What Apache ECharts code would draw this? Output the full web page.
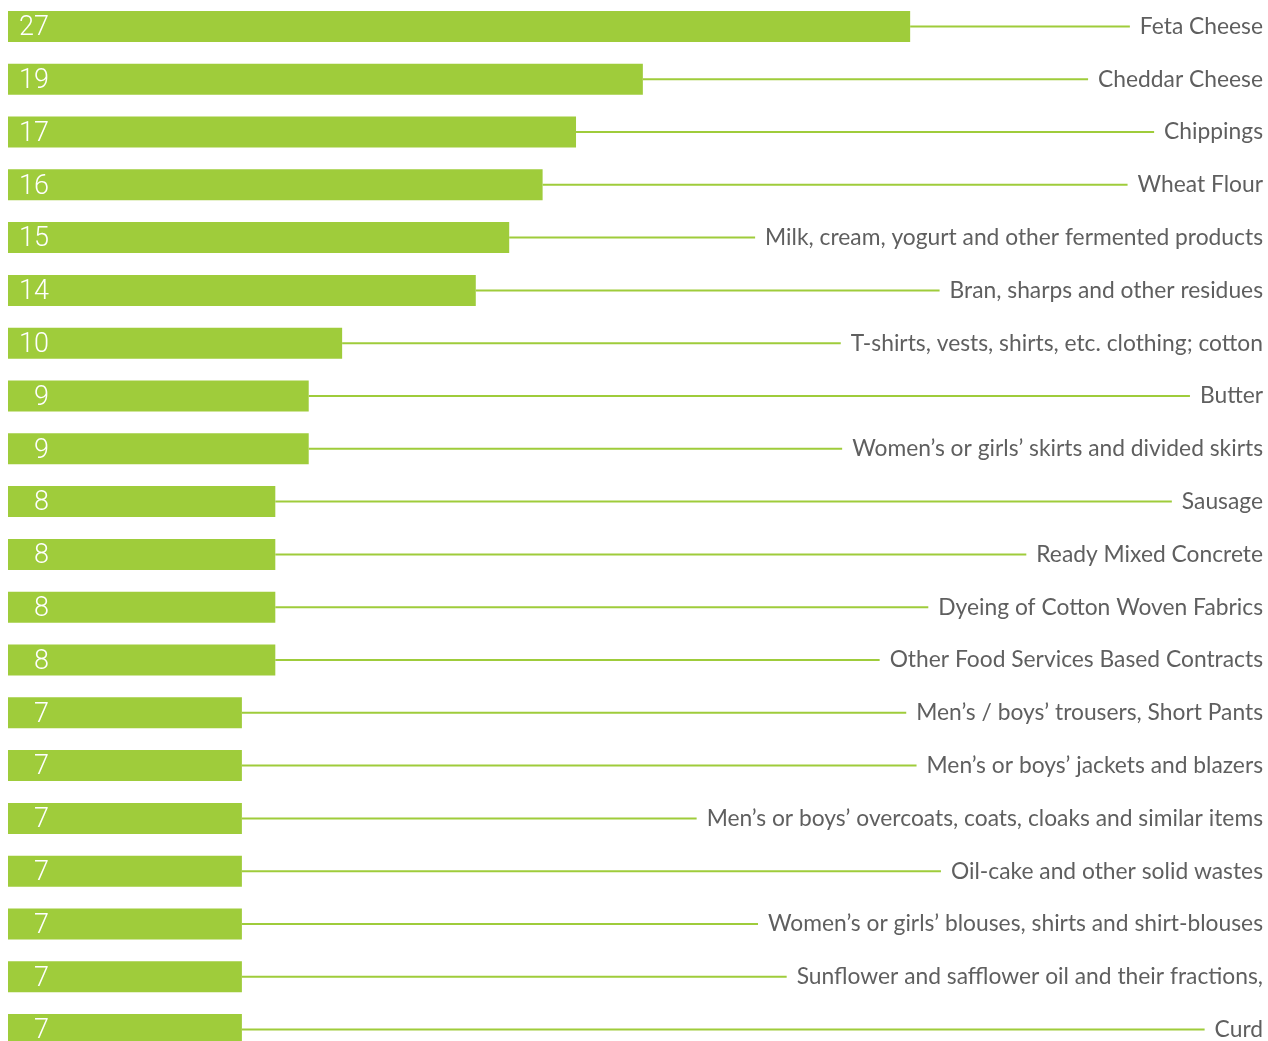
<!DOCTYPE html>
<html>
<head>
<meta charset="utf-8">
<script src="https://cdn.jsdelivr.net/npm/echarts@6/dist/echarts.min.js"></script>
<style>
html,body{margin:0;padding:0;background:#fff;}
#chart{width:1268px;height:1041px;}
</style>
</head>
<body>
<div id="chart"></div>
<script>
const categories = [
  "Feta Cheese",
  "Cheddar Cheese",
  "Chippings",
  "Wheat Flour",
  "Milk, cream, yogurt and other fermented products",
  "Bran, sharps and other residues",
  "T-shirts, vests, shirts, etc. clothing; cotton",
  "Butter",
  "Women’s or girls’ skirts and divided skirts",
  "Sausage",
  "Ready Mixed Concrete",
  "Dyeing of Cotton Woven Fabrics",
  "Other Food Services Based Contracts",
  "Men’s / boys’ trousers, Short Pants",
  "Men’s or boys’ jackets and blazers",
  "Men’s or boys’ overcoats, coats, cloaks and similar items",
  "Oil-cake and other solid wastes",
  "Women’s or girls’ blouses, shirts and shirt-blouses",
  "Sunflower and safflower oil and their fractions,",
  "Curd"
];
const values = [27, 19, 17, 16, 15, 14, 10, 9, 9, 8, 8, 8, 8, 7, 7, 7, 7, 7, 7, 7];

const GREEN = '#9fcc3b';
const TEXT = '#5f5f5f';
const LABEL_FONT_SIZE = 22.8;
const LABEL_FONT_FAMILY = 'Lato, "Noto Sans", sans-serif';

const measureCtx = document.createElement('canvas').getContext('2d');

const chart = echarts.init(document.getElementById('chart'));
chart.setOption({
  animation: false,
  grid: { left: 8, right: 7, top: 0, height: 1056, outerBoundsMode: 'none', containLabel: false },
  xAxis: { type: 'value', min: 0, max: 37.5, show: false },
  yAxis: { type: 'category', data: categories, inverse: true, show: false },
  series: [
    {
      type: 'custom',
      z: 1,
      clip: false,
      data: values.map((v, i) => [v, i]),
      encode: { x: 0, y: 1 },
      renderItem: function (params, api) {
        const v = api.value(0), i = api.value(1);
        const p = api.coord([v, i]);
        const txt = categories[i];
        measureCtx.font = LABEL_FONT_SIZE + 'px ' + LABEL_FONT_FAMILY;
        const w = measureCtx.measureText(txt).width;
        const right = api.getWidth() - 5;
        const lineEnd = right - w - 10;
        return {
          type: 'group',
          children: [
            {
              type: 'line',
              shape: { x1: p[0], y1: p[1], x2: lineEnd, y2: p[1] },
              style: { stroke: GREEN, lineWidth: 2 }
            },
            {
              type: 'text',
              style: {
                text: txt, x: right, y: p[1],
                align: 'right', verticalAlign: 'middle',
                fill: TEXT, fontSize: LABEL_FONT_SIZE, fontFamily: LABEL_FONT_FAMILY
              }
            }
          ]
        };
      }
    },
    {
      type: 'bar',
      z: 2,
      data: values,
      barWidth: 31,
      itemStyle: { color: GREEN },
      label: {
        show: true,
        position: [41, '50%'],
        offset: [0, 2],
        align: 'right',
        verticalAlign: 'middle',
        color: '#fff',
        fontSize: 27,
        fontWeight: 300,
        fontFamily: 'Roboto, Lato, sans-serif'
      }
    }
  ]
});
</script>
</body>
</html>
